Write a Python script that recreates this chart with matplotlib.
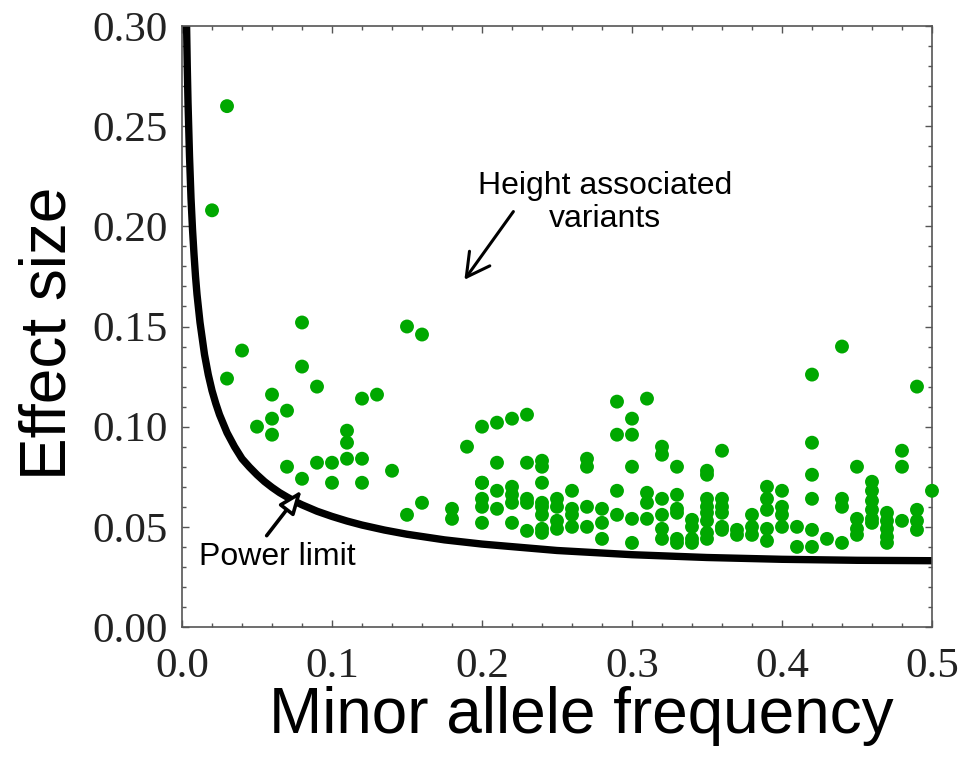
import matplotlib.pyplot as plt
from matplotlib.ticker import MultipleLocator

# power limit curve
curve_maf = [0.0025, 0.003, 0.0035, 0.004, 0.005, 0.006, 0.007, 0.008, 0.009, 0.010, 0.012,
             0.015, 0.0175, 0.02, 0.0225, 0.025, 0.03, 0.035, 0.04, 0.045, 0.05, 0.055,
             0.06, 0.065, 0.07, 0.075, 0.08, 0.09, 0.10, 0.11, 0.12, 0.135, 0.15, 0.175,
             0.20, 0.25, 0.30, 0.35, 0.40, 0.45, 0.50]
curve_effect = [0.330, 0.302, 0.280, 0.262, 0.235, 0.214, 0.1985, 0.186, 0.175, 0.166, 0.152,
                0.136, 0.126, 0.118, 0.1116, 0.106, 0.097, 0.090, 0.084, 0.0798, 0.076, 0.0726,
                0.0697, 0.0671, 0.0649, 0.0628, 0.061, 0.0578, 0.0552, 0.0529, 0.0509, 0.0484,
                0.0463, 0.0435, 0.0414, 0.0382, 0.0361, 0.0347, 0.0338, 0.0333, 0.0331]

# height associated variants
maf = [0.03, 0.02, 0.03, 0.04, 0.08, 0.08, 0.09, 0.06, 0.05, 0.06, 0.07, 0.06,
       0.07, 0.08, 0.09, 0.10, 0.10, 0.11, 0.11, 0.11, 0.12, 0.12, 0.12, 0.13,
       0.14, 0.15, 0.16, 0.15, 0.16,
       0.18, 0.18, 0.19,
       0.20, 0.20, 0.20, 0.20, 0.20, 0.20,
       0.21, 0.21, 0.21, 0.21,
       0.22, 0.22, 0.22, 0.22, 0.22,
       0.23, 0.23, 0.23, 0.23, 0.23,
       0.24, 0.24, 0.24, 0.24, 0.24, 0.24, 0.24, 0.24,
       0.25, 0.25, 0.25, 0.25,
       0.26, 0.26, 0.26, 0.26,
       0.27, 0.27, 0.27, 0.27,
       0.28, 0.28, 0.28,
       0.29, 0.29, 0.29, 0.29,
       0.30, 0.30, 0.30, 0.30, 0.30,
       0.31, 0.31, 0.31, 0.31,
       0.32, 0.32, 0.32, 0.32, 0.32, 0.32,
       0.33, 0.33, 0.33, 0.33, 0.33, 0.33,
       0.34, 0.34, 0.34, 0.34,
       0.35, 0.35, 0.35, 0.35, 0.35, 0.35, 0.35, 0.35,
       0.36, 0.36, 0.36, 0.36, 0.36, 0.36,
       0.37, 0.37,
       0.38, 0.38, 0.38,
       0.39, 0.39, 0.39, 0.39, 0.39,
       0.40, 0.40, 0.40, 0.40,
       0.41, 0.41,
       0.42, 0.42, 0.42, 0.42, 0.42, 0.42,
       0.43,
       0.44, 0.44, 0.44, 0.44,
       0.45, 0.45, 0.45, 0.45,
       0.46, 0.46, 0.46, 0.46, 0.46, 0.46,
       0.47, 0.47, 0.47, 0.47, 0.47,
       0.48, 0.48, 0.48,
       0.49, 0.49, 0.49, 0.49,
       0.50]
effect = [0.260, 0.208, 0.124, 0.138, 0.152, 0.130, 0.120, 0.116, 0.100, 0.104, 0.108, 0.096,
          0.080, 0.074, 0.082, 0.082, 0.072, 0.098, 0.092, 0.084, 0.084, 0.072, 0.114, 0.116,
          0.078, 0.150, 0.146, 0.056, 0.062,
          0.059, 0.054, 0.090,
          0.100, 0.072, 0.064, 0.060, 0.052, 0.072,
          0.102, 0.082, 0.068, 0.059,
          0.104, 0.070, 0.066, 0.062, 0.052,
          0.106, 0.082, 0.064, 0.062, 0.048,
          0.083, 0.080, 0.072, 0.062, 0.060, 0.056, 0.049, 0.047,
          0.064, 0.060, 0.053, 0.049,
          0.068, 0.059, 0.056, 0.050,
          0.084, 0.080, 0.060, 0.050,
          0.059, 0.052, 0.044,
          0.1125, 0.096, 0.068, 0.056,
          0.104, 0.096, 0.080, 0.054, 0.042,
          0.114, 0.067, 0.062, 0.054,
          0.090, 0.086, 0.064, 0.056, 0.049, 0.044,
          0.080, 0.066, 0.059, 0.057, 0.044, 0.042,
          0.0535, 0.050, 0.044, 0.042,
          0.078, 0.076, 0.064, 0.060, 0.057, 0.053, 0.047, 0.044,
          0.088, 0.064, 0.060, 0.057, 0.050, 0.0485,
          0.0485, 0.046,
          0.056, 0.050, 0.046,
          0.070, 0.064, 0.0585, 0.049, 0.043,
          0.068, 0.060, 0.056, 0.050,
          0.050, 0.040,
          0.126, 0.092, 0.076, 0.064, 0.0485, 0.040,
          0.044,
          0.140, 0.064, 0.060, 0.042,
          0.080, 0.054, 0.049, 0.046,
          0.0725, 0.068, 0.063, 0.0585, 0.054, 0.052,
          0.057, 0.053, 0.049, 0.045, 0.042,
          0.088, 0.080, 0.053,
          0.120, 0.0585, 0.053, 0.0485,
          0.068]

fig = plt.figure(figsize=(9.61, 7.58), dpi=100)
ax = fig.add_axes([0.1894, 0.1728, 0.7804, 0.7929])

ax.plot(curve_maf, curve_effect, color='black', lw=5.3, solid_joinstyle='round', zorder=2)
ax.scatter(maf, effect, s=100, color='#00a800', edgecolors='none', zorder=3, clip_on=False)

ax.set_xlim(0, 0.5)
ax.set_ylim(0, 0.30)
ax.xaxis.set_major_locator(MultipleLocator(0.1))
ax.xaxis.set_minor_locator(MultipleLocator(0.02))
ax.yaxis.set_major_locator(MultipleLocator(0.05))
ax.yaxis.set_minor_locator(MultipleLocator(0.01))
ax.set_xticklabels([f'{v:.1f}' for v in ax.get_xticks()])
ax.set_yticklabels([f'{v:.2f}' for v in ax.get_yticks()])

for lab in ax.get_xticklabels() + ax.get_yticklabels():
    lab.set_family('Liberation Serif')
    lab.set_fontsize(31)
    lab.set_color('#222222')

ax.tick_params(which='both', direction='in', top=True, right=True, color='#555555', width=1)
ax.tick_params(which='major', length=5)
ax.tick_params(which='minor', length=3)
ax.tick_params(axis='x', pad=15)
ax.tick_params(axis='y', pad=10)
for sp in ax.spines.values():
    sp.set_color('#555555')
    sp.set_linewidth(1.2)

ax.set_xlabel('Minor allele frequency', family='Liberation Sans', fontsize=46, labelpad=0)
ax.xaxis.label.set_x(0.533)
ax.set_ylabel('Effect size', family='Liberation Sans', fontsize=46, labelpad=10)
ax.yaxis.label.set_y(0.489)

ax.text(0.282, 0.212, 'Height associated\nvariants', family='Liberation Sans', fontsize=23,
        ha='center', va='center', linespacing=1.15)
ax.annotate('', xy=(0.1872, 0.1722), xytext=(0.222, 0.2085),
            arrowprops=dict(arrowstyle='->,head_length=0.55,head_width=0.3', lw=2.2,
                            color='black', mutation_scale=30))

ax.text(0.0633, 0.035, 'Power limit', family='Liberation Sans', fontsize=23,
        ha='center', va='center')
ax.annotate('', xy=(0.0809, 0.0693), xytext=(0.0553, 0.0445),
            arrowprops=dict(arrowstyle='-|>,head_length=0.5,head_width=0.2', lw=2.6,
                            color='black', fc='white', mutation_scale=28))

fig.savefig('out.png', dpi=100)
